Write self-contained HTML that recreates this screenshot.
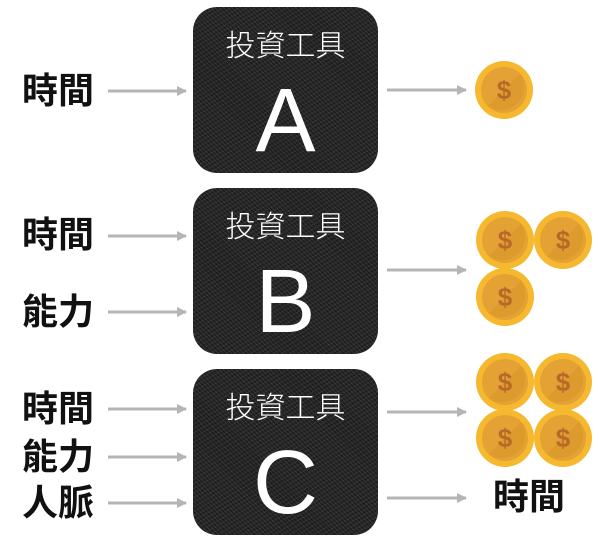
<!DOCTYPE html>
<html><head><meta charset="utf-8"><style>
body{margin:0;width:600px;height:541px;background:#fff;position:relative;overflow:hidden;font-family:"Liberation Sans","Noto Sans CJK TC",sans-serif}
.box{position:absolute;left:193px;width:185px;height:166px;border-radius:24px;background:#1e1e1e;color:#fff;text-align:center;
background-image:repeating-linear-gradient(45deg,rgba(255,255,255,.08) 0 1px,transparent 1px 3px),repeating-linear-gradient(-30deg,rgba(255,255,255,.07) 0 1px,transparent 1px 4px)}
.box .t{position:absolute;top:20px;width:100%;font-size:30px;font-weight:300;line-height:40px}
.box .l{position:absolute;top:66px;width:100%;font-size:90px;line-height:96px}
.lab{position:absolute;left:22px;font-size:36px;font-weight:bold;line-height:40px;color:#111}
</style></head><body>
<div class="box" style="top:7px"><div class="t">投資工具</div><div class="l">A</div></div>
<div class="box" style="top:188px"><div class="t">投資工具</div><div class="l">B</div></div>
<div class="box" style="top:369px"><div class="t">投資工具</div><div class="l">C</div></div>
<div class="lab" style="top:71px">時間</div>
<div class="lab" style="top:215px">時間</div>
<div class="lab" style="top:292px">能力</div>
<div class="lab" style="top:389px">時間</div>
<div class="lab" style="top:437px">能力</div>
<div class="lab" style="top:483px">人脈</div>
<div class="lab" style="top:477px;left:493px">時間</div>
<svg width="600" height="541" style="position:absolute;left:0;top:0">
<defs>
<marker id="a" markerWidth="10" markerHeight="10" refX="9" refY="5" orient="auto" markerUnits="userSpaceOnUse"><path d="M0,0 L10,5 L0,10z" fill="#b5b5b5"/></marker>
<g id="c"><circle r="29" fill="#f5b82e"/><circle r="23" fill="#e3a233"/><path d="M-16,16 L16,-16 A23,23 0 0 1 -16,16z" fill="#d9952a" opacity=".6"/><text y="9" text-anchor="middle" font-size="26" font-weight="bold" fill="#b8692a" font-family="Liberation Sans">$</text></g>
</defs>
<g stroke="#b5b5b5" stroke-width="3" marker-end="url(#a)">
<line x1="108" y1="91" x2="186" y2="91"/>
<line x1="387" y1="90" x2="466" y2="90"/>
<line x1="108" y1="236" x2="186" y2="236"/>
<line x1="108" y1="312" x2="186" y2="312"/>
<line x1="387" y1="270" x2="466" y2="270"/>
<line x1="108" y1="409" x2="186" y2="409"/>
<line x1="108" y1="457" x2="186" y2="457"/>
<line x1="108" y1="503" x2="186" y2="503"/>
<line x1="387" y1="412" x2="466" y2="412"/>
<line x1="387" y1="498" x2="466" y2="498"/>
</g>
<use href="#c" x="504" y="90"/>
<use href="#c" x="505" y="240"/><use href="#c" x="563" y="240"/><use href="#c" x="505" y="297"/>
<use href="#c" x="505" y="382"/><use href="#c" x="563" y="382"/><use href="#c" x="505" y="438"/><use href="#c" x="563" y="438"/>
</svg>
</body></html>
